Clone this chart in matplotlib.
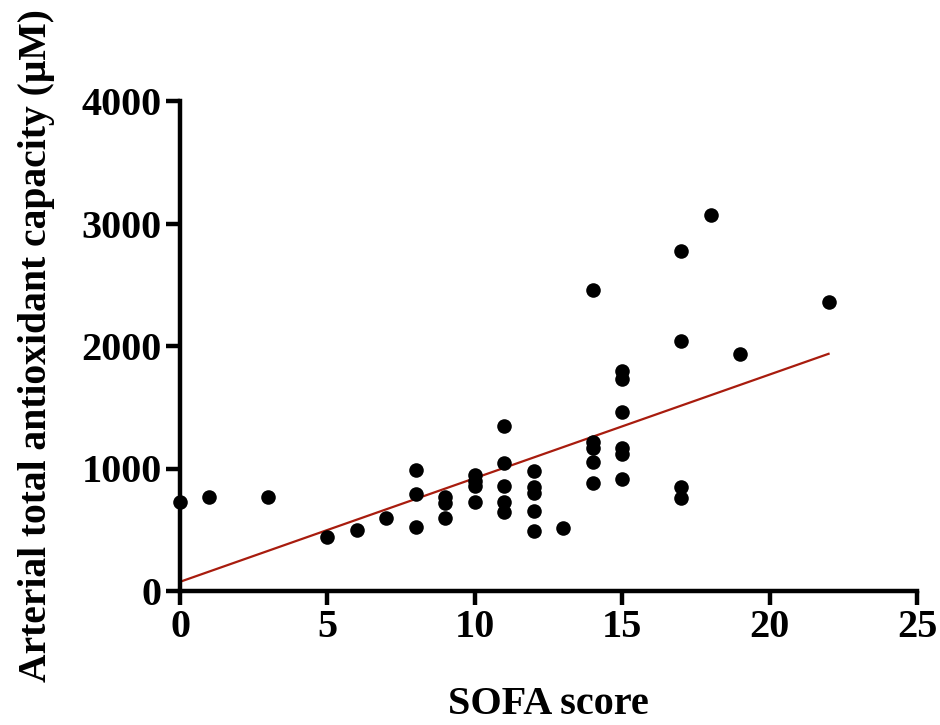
import numpy as np
import matplotlib
matplotlib.use("Agg")
import matplotlib.pyplot as plt

# SOFA score and arterial total antioxidant capacity (uM) per patient
sofa = [0, 1, 3, 5, 6, 7,
        8, 8, 8,
        9, 9, 9,
        10, 10, 10, 10,
        11, 11, 11, 11, 11,
        12, 12, 12, 12, 12,
        13,
        14, 14, 14, 14, 14,
        15, 15, 15, 15, 15, 15,
        17, 17, 17, 17,
        18, 19, 22]
tac = [727, 765, 767, 443, 498, 593,
       988, 792, 520,
       770, 716, 593,
       945, 898, 855, 725,
       1347, 1042, 857, 729, 648,
       982, 847, 803, 656, 490,
       517,
       2457, 1219, 1165, 1056, 879,
       1798, 1733, 1464, 1165, 1115, 912,
       2776, 2043, 846, 757,
       3069, 1937, 2362]

# linear regression reported for the cohort
fit_intercept = 75.0
fit_slope = 84.6

x_ticks = [0, 5, 10, 15, 20, 25]
y_ticks = [0, 1000, 2000, 3000, 4000]

plt.rcParams['font.family'] = ['Liberation Serif', 'DejaVu Serif']
plt.rcParams['font.weight'] = 'bold'

fig = plt.figure(figsize=(9.4, 7.25), dpi=100)
ax = fig.add_axes([180 / 940, 134 / 725, 737 / 940, 490 / 725])

ax.scatter(sofa, tac, s=110, color='black', zorder=3, clip_on=False, linewidths=0)

xfit = np.array([min(sofa), max(sofa)])
ax.plot(xfit, fit_slope * xfit + fit_intercept, color='#A81C0E', lw=1.6, zorder=2)

ax.set_xlim(0, 25)
ax.set_ylim(0, 4000)
ax.set_xticks(x_ticks)
ax.set_yticks(y_ticks)
for s in ['top', 'right']:
    ax.spines[s].set_visible(False)
for s in ['left', 'bottom']:
    ax.spines[s].set_linewidth(3.2)
ax.tick_params(axis='both', which='major', direction='out', length=10,
               width=3.2, labelsize=29, pad=3)
for lab in ax.get_xticklabels() + ax.get_yticklabels():
    lab.set_fontweight('bold')

ax.set_xlabel('SOFA score', fontsize=29, fontweight='bold', labelpad=29)
ax.set_ylabel('Arterial total antioxidant capacity (\u03bcM)', fontsize=28.5,
              fontweight='bold', labelpad=19)

fig.savefig('out.png', dpi=100)
